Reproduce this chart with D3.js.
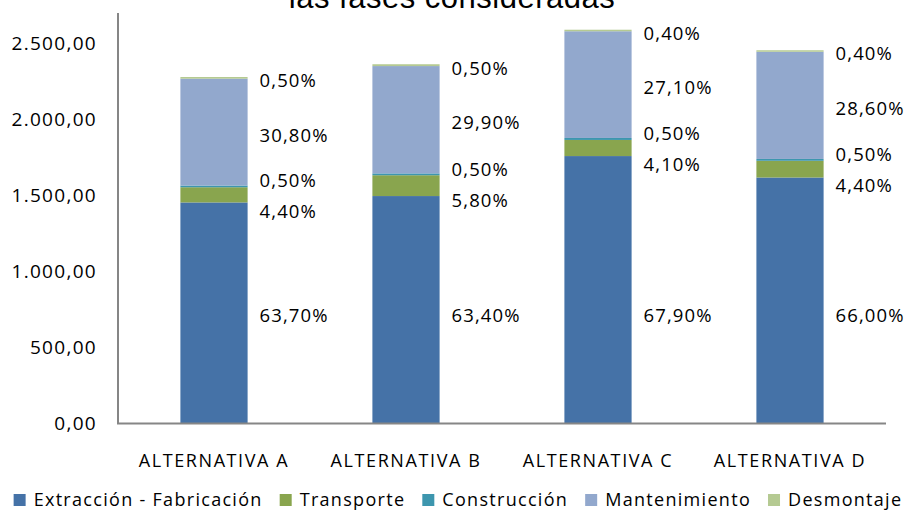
<!DOCTYPE html>
<html>
<head>
<meta charset="utf-8">
<script src="https://cdn.jsdelivr.net/npm/d3@7"></script>
<style>
  body { margin: 0; background: #fff; }
  svg text { font-family: "Open Sans", sans-serif; fill: #000; }
</style>
</head>
<body>
<div id="chart"></div>
<script>
// data
var categories = ["ALTERNATIVA A", "ALTERNATIVA B", "ALTERNATIVA C", "ALTERNATIVA D"];
var seriesNames = ["Extracción - Fabricación", "Transporte", "Construcción", "Mantenimiento", "Desmontaje"];
var extraccion = [1454, 1496, 1759, 1618];
var transporte = [100, 137, 106, 110];
var construccion = [11, 12, 13, 12];
var mantenimiento = [703, 706, 702, 705];
var desmontaje = [11, 12, 10, 10];

var pctExtraccion = ["63,70%", "63,40%", "67,90%", "66,00%"];
var pctTransporte = ["4,40%", "5,80%", "4,10%", "4,40%"];
var pctConstruccion = ["0,50%", "0,50%", "0,50%", "0,50%"];
var pctMantenimiento = ["30,80%", "29,90%", "27,10%", "28,60%"];
var pctDesmontaje = ["0,50%", "0,50%", "0,40%", "0,40%"];

var yTicks = [0, 500, 1000, 1500, 2000, 2500];

var colors = ["#4572A7", "#89A54E", "#3D96AE", "#92A8CD", "#B5CA92"];

var values = [extraccion, transporte, construccion, mantenimiento, desmontaje];
var labels = [pctExtraccion, pctTransporte, pctConstruccion, pctMantenimiento, pctDesmontaje];

var width = 907, height = 510;
var plotLeft = 118, plotRight = 886, plotTop = 13, plotBottom = 423.5;

var svg = d3.select("#chart").append("svg")
    .attr("width", width)
    .attr("height", height);

var x = d3.scaleBand()
    .domain(categories)
    .range([plotLeft, plotRight])
    .paddingInner(0.65)
    .paddingOuter(0.325);

var y = d3.scaleLinear()
    .domain([0, 2700])
    .range([plotBottom, plotTop]);

var rows = categories.map(function(c, i) {
  var r = { cat: c };
  seriesNames.forEach(function(s, k) { r[s] = values[k][i]; });
  return r;
});

var stacked = d3.stack().keys(seriesNames)(rows);

// title (only its lower line shows, cut by the top edge)
svg.append("text")
    .attr("x", 452)
    .attr("y", 8)
    .attr("text-anchor", "middle")
    .style("font-family", "'Liberation Sans', Arial, sans-serif")
    .style("font-size", "31px")
    .style("letter-spacing", "0.5px")
    .text("las fases consideradas");

// bars
svg.selectAll(".serie")
    .data(stacked)
    .enter().append("g")
    .attr("class", "serie")
    .attr("fill", function(d, k) { return colors[k]; })
  .selectAll("rect")
    .data(function(d) { return d; })
    .enter().append("rect")
    .attr("x", function(d) { return x(d.data.cat); })
    .attr("y", function(d) { return y(d[1]); })
    .attr("width", x.bandwidth())
    .attr("height", function(d) { return y(d[0]) - y(d[1]); });

// axes
svg.append("line")
    .attr("x1", plotLeft).attr("x2", plotLeft)
    .attr("y1", plotTop).attr("y2", plotBottom)
    .attr("stroke", "#868686").attr("stroke-width", 2);
svg.append("line")
    .attr("x1", plotLeft - 1).attr("x2", plotRight)
    .attr("y1", plotBottom).attr("y2", plotBottom)
    .attr("stroke", "#868686").attr("stroke-width", 2);

var fmt = d3.formatLocale({ decimal: ",", thousands: ".", grouping: [3], currency: ["", "€"] }).format(",.2f");

svg.selectAll(".ytick")
    .data(yTicks)
    .enter().append("text")
    .attr("class", "ytick")
    .attr("x", 97)
    .attr("y", function(d) { return y(d); })
    .attr("dy", "0.35em")
    .attr("text-anchor", "end")
    .style("font-size", "19px")
    .style("letter-spacing", "1.3px")
    .text(function(d) { return fmt(d); });

svg.selectAll(".xlab")
    .data(categories)
    .enter().append("text")
    .attr("class", "xlab")
    .attr("x", function(d) { return x(d) + x.bandwidth() / 2; })
    .attr("y", 461)
    .attr("dy", "0.35em")
    .attr("text-anchor", "middle")
    .style("font-size", "18px")
    .style("letter-spacing", "1.6px")
    .text(function(d) { return d; });

// data labels: segment centres, the upper four pushed apart, the first ones on one row
categories.forEach(function(c, i) {
  var pos = stacked.map(function(s) { return (y(s[i][0]) + y(s[i][1])) / 2 + 3; });
  var minGap = 31;
  for (var it = 0; it < 60; it++) {
    for (var k = 1; k < pos.length - 1; k++) {
      var gap = pos[k] - pos[k + 1];
      if (gap < minGap) {
        var shift = minGap - gap;
        pos[k] += shift * 0.6;
        pos[k + 1] -= shift * 0.4;
      }
    }
  }
  pos[0] = d3.max(categories, function(cc, j) {
    return (y(stacked[0][j][0]) + y(stacked[0][j][1])) / 2 + 3;
  });
  pos.forEach(function(py, k) {
    svg.append("text")
        .attr("x", x(c) + x.bandwidth() + 12)
        .attr("y", py)
        .attr("dy", "0.35em")
        .style("font-size", "18.5px")
        .style("letter-spacing", "1.1px")
        .text(labels[k][i]);
  });
});

// legend
var legend = svg.append("g").attr("class", "legend");
var lx = 0;
seriesNames.forEach(function(name, k) {
  var item = legend.append("g").attr("transform", "translate(" + lx + ",0)");
  item.append("rect")
      .attr("x", 0).attr("y", -6)
      .attr("width", 12).attr("height", 12)
      .attr("fill", colors[k]);
  var t = item.append("text")
      .attr("x", 20)
      .attr("y", 0)
      .attr("dy", "0.35em")
      .style("font-size", "18px")
      .style("letter-spacing", "1.3px")
      .text(name);
  lx += 20 + t.node().getComputedTextLength() + 17;
});
var legendW = lx - 17;
legend.attr("transform", "translate(" + (458 - legendW / 2) + ",500)");
</script>
</body>
</html>
